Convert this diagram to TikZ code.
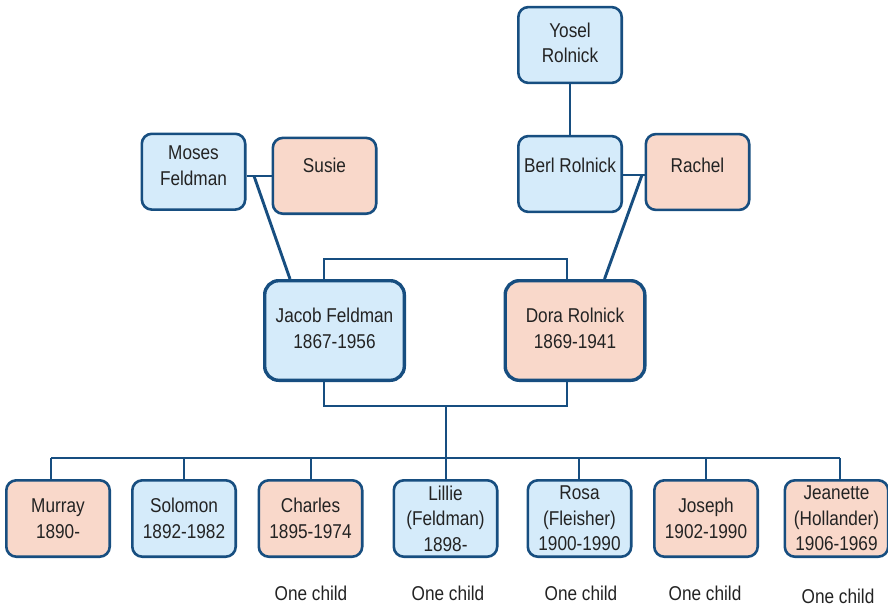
\documentclass[tikz,border=0pt]{standalone}
\usepackage{fontspec}
\setmainfont{Liberation Sans}[FakeStretch=0.86]
\definecolor{edge}{HTML}{174E80}
\definecolor{male}{HTML}{D5EBFA}
\definecolor{female}{HTML}{F9D8CA}
\definecolor{ink}{HTML}{232323}

\begin{document}
\begin{tikzpicture}[x=1pt,y=-1pt,
  box/.style={draw=edge, line width=2.6pt, rounded corners=10pt, inner sep=0pt,
              minimum width=103.4pt, minimum height=75.8pt},
  big/.style={line width=3.4pt, rounded corners=14pt,
              minimum width=139.6pt, minimum height=99.6pt},
  kid/.style={minimum height=76.4pt},
  he/.style={fill=male}, she/.style={fill=female},
  txt/.style={text=ink, align=center, inner sep=0pt,
              font=\fontsize{20}{25.5}\selectfont},
  link/.style={draw=edge, line width=2.9pt},
]
\useasboundingbox (0,0) rectangle (888,606);

% ---- grandparents ----
\node[box,he]  (yosel)  at (570,45)    {};
\node[box,he]  (moses)  at (193.5,171.7) {};
\node[box,she] (susie)  at (324.5,175.8) {};
\node[box,he]  (berl)   at (570,174)   {};
\node[box,she] (rachel) at (697.5,172) {};

% ---- parents ----
\node[box,big,he]  (jacob) at (334.5,330.5) {};
\node[box,big,she] (dora)  at (575,330.5)   {};

% ---- children ----
\node[box,kid,she] (murray)   at (58,518.5)    {};
\node[box,kid,he]  (solomon)  at (184,518.5)   {};
\node[box,kid,she] (charles)  at (310.5,518.5) {};
\node[box,kid,he]  (lillie)   at (445.5,518.5) {};
\node[box,kid,he]  (rosa)     at (579.5,518.5) {};
\node[box,kid,she] (joseph)   at (706,518.5)   {};
\node[box,kid,she] (jeanette) at (836.5,518.5) {};

% ---- names ----
\node[txt] (yosel-t)  at ([yshift=2pt]yosel.center)  {Yosel\\Rolnick};
\node[txt] (moses-t)  at ([yshift=6pt]moses.center)  {Moses\\Feldman};
\node[txt] (susie-t)  at ([yshift=10pt]susie.center) {Susie};
\node[txt] (berl-t)   at ([yshift=8.5pt]berl.center) {Berl Rolnick};
\node[txt] (rachel-t) at ([yshift=6.5pt]rachel.center) {Rachel};
\node[txt] (jacob-t)  at ([yshift=2pt]jacob.center)  {Jacob Feldman\\1867-1956};
\node[txt] (dora-t)   at ([yshift=2pt]dora.center)   {Dora Rolnick\\1869-1941};
\node[txt] (murray-t)   at (murray)   {Murray\\1890-};
\node[txt] (solomon-t)  at (solomon)  {Solomon\\1892-1982};
\node[txt] (charles-t)  at (charles)  {Charles\\1895-1974};
\node[txt] (lillie-t)   at (lillie)   {Lillie\\(Feldman)\\1898-};
\node[txt] (rosa-t)     at (rosa)     {Rosa\\(Fleisher)\\1900-1990};
\node[txt] (joseph-t)   at (joseph)   {Joseph\\1902-1990};
\node[txt] (jeanette-t) at (jeanette) {Jeanette\\(Hollander)\\1906-1969};

% ---- notes under the children ----
\node[txt] (charles-n)  at (311,593)   {One child};
\node[txt] (lillie-n)   at (448,593)   {One child};
\node[txt] (rosa-n)     at (581,593)   {One child};
\node[txt] (joseph-n)   at (705,593)   {One child};
\node[txt] (jeanette-n) at (838,596)   {One child};

% ---- junction points ----
\coordinate (mj)  at (254,176);
\coordinate (rj)  at (642,175);
\coordinate (tl)  at (324,259);
\coordinate (tr)  at (567,259);
\coordinate (bl)  at (324,406);
\coordinate (br)  at (567,406);
\coordinate (fam) at (446,406);
\coordinate (hub) at (446,458);
\coordinate (d1) at (51,458);
\coordinate (d2) at (184,458);
\coordinate (d3) at (311,458);
\coordinate (d4) at (446,458);
\coordinate (d5) at (579,458);
\coordinate (d6) at (706,458);
\coordinate (d7) at (840,458);

% ---- connectors ----
\draw[link] (yosel) -- (berl);
\draw[link] (moses.east |- mj) -- (susie.west |- mj);
\draw[link] (mj) -- ([xshift=27pt]jacob.north west);
\draw[link] (berl.east |- rj) -- (rachel.west |- rj);
\draw[link] (rj) -- ([xshift=-42pt]dora.north east);
\draw[link] (jacob.north -| tl) -- (tl) -- (tr) -- (dora.north -| tr);
\draw[link] (jacob.south -| bl) -- (bl) -- (br) -- (dora.south -| br);
\draw[link] (fam) -- (hub);
\draw[link] (d1) -- (d7);
\foreach \d/\n in {d1/murray,d2/solomon,d3/charles,d4/lillie,d5/rosa,d6/joseph,d7/jeanette}
  \draw[link] (\d) -- (\n.north -| \d);
\end{tikzpicture}
\end{document}
